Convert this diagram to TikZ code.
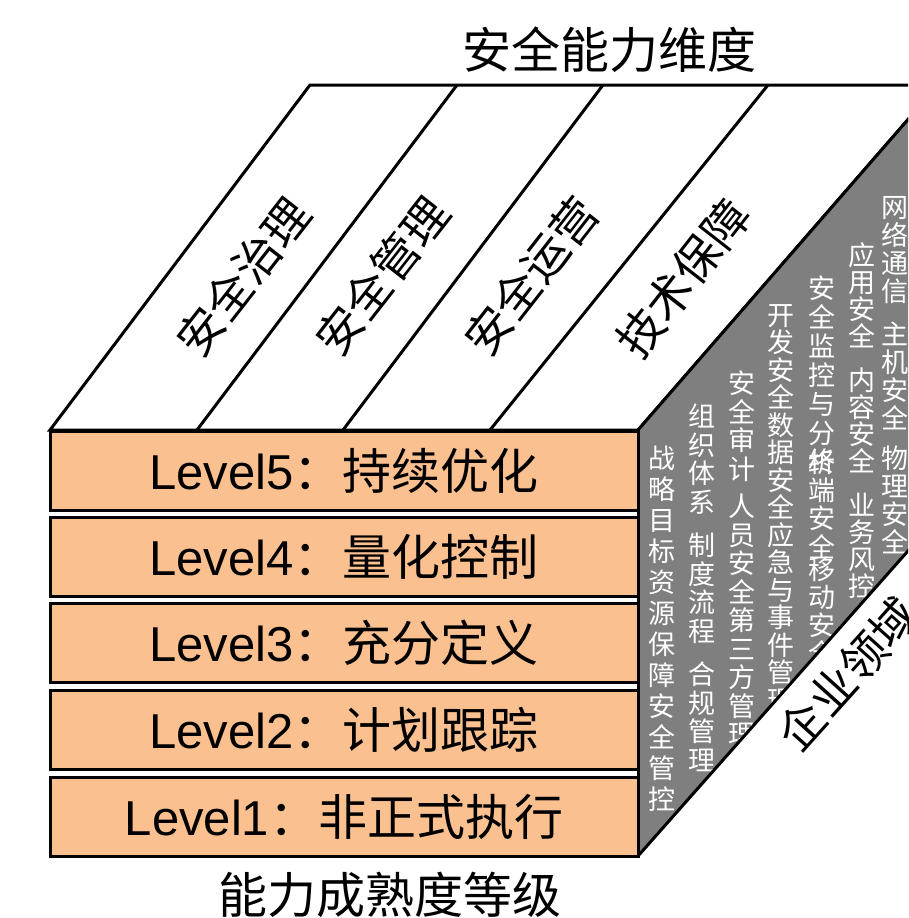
\documentclass[tikz,border=0pt]{standalone}
\usepackage{fontspec}
\setmainfont{Liberation Sans}
\newfontfamily\cjk{Noto Sans CJK SC}
\definecolor{peach}{HTML}{FAC090}
\definecolor{sidegray}{HTML}{7F7F7F}
\begin{document}
\begin{tikzpicture}[x=1pt,y=-1pt,
  edge/.style={draw=black,line width=3pt,line join=miter},
  lvl/.style={draw=black,line width=3pt,fill=peach,minimum width=588pt,minimum height=79pt,inner sep=0pt,font=\fontsize{49}{52}\selectfont},
  gcol/.style={text=white,inner sep=0pt,align=center,anchor=north,font=\cjk\fontsize{27}{#1}\selectfont},
  toplbl/.style={inner sep=0pt,rotate=52,font=\cjk\fontsize{46}{50}\selectfont},
  title/.style={inner sep=0pt,font=\cjk\fontsize{49}{52}\selectfont}]
\useasboundingbox (0,0) rectangle (908,918);
\clip (0,0) rectangle (908,918);
% corners
\coordinate (FTL) at (50,430);
\coordinate (FTR) at (638,430);
\coordinate (FBR) at (638,856);
\coordinate (BTL) at (310,85);
\coordinate (BTR) at (938,85);
\coordinate (BBR) at (938,517);
\coordinate (S1b) at (197,430); \coordinate (S1t) at (457,85);
\coordinate (S2b) at (343,430); \coordinate (S2t) at (603,85);
\coordinate (S3b) at (490,430); \coordinate (S3t) at (768,85);
% top face
\filldraw[edge,fill=white] (FTL) -- (BTL) -- (BTR) -- (FTR) -- cycle;
\draw[edge] (S1b) -- (S1t);
\draw[edge] (S2b) -- (S2t);
\draw[edge] (S3b) -- (S3t);
\node[toplbl] (t1) at (243,277) {安全治理};
\node[toplbl] (t2) at (382,276) {安全管理};
\node[toplbl] (t3) at (531,276) {安全运营};
\node[toplbl] (t4) at (683,278) {技术保障};
% side face
\fill[sidegray] (FTR) -- (BTR) -- (BBR) -- (FBR) -- cycle;
\node[gcol=31] (c1) at (662,446) {战\\略\\目\\标\\资\\源\\保\\障\\安\\全\\管\\控};
\node[gcol=28.5] (c2) at (702,404) {组\\织\\体\\系\\[15pt]制\\度\\流\\程\\[15pt]合\\规\\管\\理};
\node[gcol=28.5] (c3) at (742,371) {安\\全\\审\\计\\[9pt]人\\员\\安\\全\\第\\三\\方\\管\\理};
\node[gcol=27.5] (c4) at (781,304) {开\\发\\安\\全\\数\\据\\安\\全\\应\\急\\与\\事\\件\\管\\理};
\node[gcol=29] (c5a) at (822,276) {安\\全\\监\\控\\与\\分\\析};
\node[gcol=28.5] (c5b) at (822,449) {终\\端\\安\\全};
\node[gcol=28] (c5c) at (822,557) {移\\动\\安\\全};
\node[gcol=27] (c6) at (862,242) {应\\用\\安\\全\\[17pt]内\\容\\安\\全\\[17pt]业\\务\\风\\控};
\node[gcol=28] (c7) at (895,196) {网\\络\\通\\信\\[15pt]主\\机\\安\\全\\[12pt]物\\理\\安\\全};
\fill[white] (FBR) -- (BBR) -- (1000,517) -- (1000,1000) -- (638,1000) -- cycle;
\draw[edge] (FTR) -- (BTR);
\draw[edge] (FBR) -- (BBR);
\draw[edge] (FTR) -- (FBR);
\node[toplbl,rotate=-4] (area) at (848,674) {企业领域};
% level boxes
\node[lvl] (L5) at (344,470.5) {Level5{\cjk ：持续优化}};
\node[lvl] (L4) at (344,556.5) {Level4{\cjk ：量化控制}};
\node[lvl] (L3) at (344,642.5) {Level3{\cjk ：充分定义}};
\node[lvl] (L2) at (344,729.5) {Level2{\cjk ：计划跟踪}};
\node[lvl] (L1) at (344,816.5) {Level1{\cjk ：非正式执行}};
% titles
\node[title] (top) at (609,50) {安全能力维度};
\node[title] (bottom) at (390,895) {能力成熟度等级};
\end{tikzpicture}
\end{document}
